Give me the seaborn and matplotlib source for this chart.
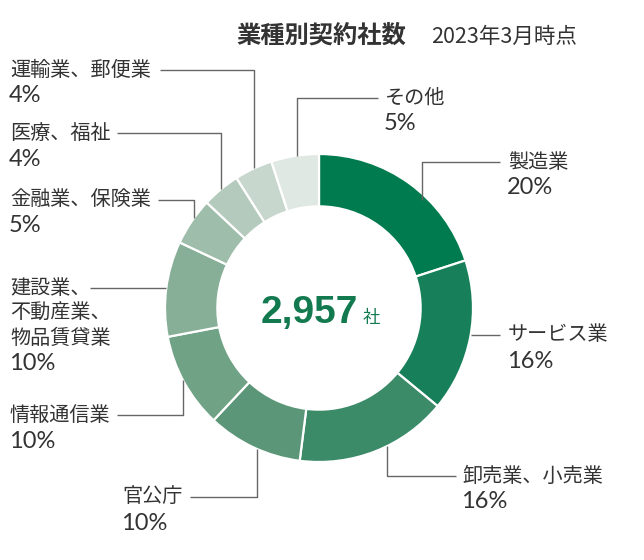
import numpy as np
import matplotlib
matplotlib.use("Agg")
import matplotlib.pyplot as plt
import seaborn as sns

# ---- data ----
categories = ["製造業", "サービス業", "卸売業、小売業", "官公庁", "情報通信業",
              "建設業、\n不動産業、\n物品賃貸業", "金融業、保険業", "医療、福祉",
              "運輸業、郵便業", "その他"]
shares = [20, 16, 16, 10, 10, 10, 5, 4, 4, 5]
colors = ["#007B4F", "#17805A", "#3B8B69", "#5A9677", "#70A286",
          "#87AF97", "#9EBDAA", "#B3CABC", "#C8D7CE", "#E0E8E3"]
total_companies = "2,957"
title = "業種別契約社数"
subtitle = "2023年3月時点"

sns.set_theme(style="white")
plt.rcParams["font.family"] = ["Noto Sans CJK JP", "DejaVu Sans"]

fig = plt.figure(figsize=(6.44, 5.60), dpi=100)
ax = fig.add_axes([0, 0, 1, 1])

cx, cy, R = 319, 308, 154
pal = sns.color_palette(colors)
ax.pie(shares, colors=pal, center=(cx, cy), radius=R, startangle=270,
       counterclock=True,
       wedgeprops=dict(width=R * 0.34, edgecolor="white", linewidth=1.6))
ax.set_xlim(0, 644)
ax.set_ylim(560, 0)
ax.set_aspect("equal")
ax.axis("off")

txt = "#333333"
lc = "#666666"

def ring_y(x, top=True):
    d = np.sqrt(R**2 - (x - cx)**2)
    return cy - d if top else cy + d

def ring_x(y, left=True):
    d = np.sqrt(R**2 - (y - cy)**2)
    return cx - d if left else cx + d

layout = {
    0: dict(x=508, y=162, path=[(500, 162), (422, 162), (422, ring_y(422) + 6)]),
    1: dict(x=508, y=335, path=[(500, 335), (ring_x(335, False), 335)]),
    2: dict(x=462, y=476, path=[(456, 476), (387, 476), (387, ring_y(387, False))]),
    3: dict(x=122, y=497, path=[(190, 497), (257, 497), (257, ring_y(257, False))]),
    4: dict(x=10, y=415, path=[(117, 415), (183, 415), (183, ring_y(183, False))]),
    5: dict(x=10, y=288, path=[(90, 288), (ring_x(288), 288)]),
    6: dict(x=10, y=200, path=[(158, 200), (194, 200), (194, ring_y(194))]),
    7: dict(x=10, y=133, path=[(117, 133), (221, 133), (221, ring_y(221))]),
    8: dict(x=10, y=70, path=[(160, 70), (254, 70), (254, ring_y(254))]),
    9: dict(x=385, y=98, path=[(378, 98), (297, 98), (297, ring_y(297))]),
}

line_h = 25
for i, (cat, s) in enumerate(zip(categories, shares)):
    L = layout[i]
    lines = cat.split("\n")
    for k, ln in enumerate(lines):
        ax.text(L["x"], L["y"] + k * line_h, ln, ha="left", va="center",
                fontsize=14.5, color=txt)
    py = L["y"] + len(lines) * line_h + 1
    ax.text(L["x"] - 1, py, f"{s}%", ha="left", va="center", fontsize=17,
            color=txt, family=["Lato", "DejaVu Sans"], fontweight="normal")
    xs, ys = zip(*L["path"])
    ax.plot(xs, ys, color=lc, lw=1.0, solid_capstyle="butt")

# centre
green = "#137A50"
ax.text(358, 323, total_companies, ha="right", va="baseline", fontsize=28,
        fontweight="bold", color=green, family=["Liberation Sans", "DejaVu Sans"])
ax.text(363, 323, "社", ha="left", va="baseline", fontsize=12.5, color=green)

# title
ax.text(236, 36, title, ha="left", va="center", fontsize=17.5, fontweight="bold", color=txt)
ax.text(431, 37, subtitle, ha="left", va="center", fontsize=15.5, color=txt)

fig.savefig("out.png", dpi=100, facecolor="white")
